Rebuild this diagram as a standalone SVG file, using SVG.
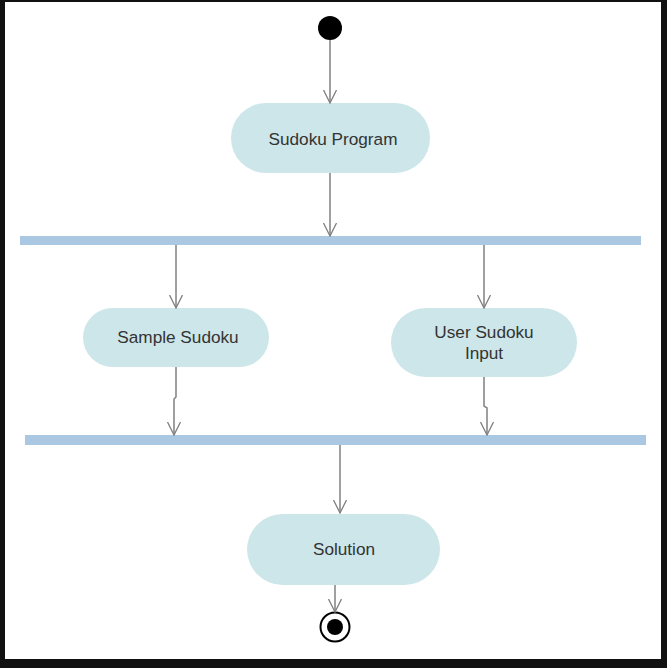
<svg xmlns="http://www.w3.org/2000/svg" width="667" height="668" viewBox="0 0 667 668">
  <defs>
    <marker id="arr" viewBox="0 0 14 14" refX="13" refY="7" markerWidth="14" markerHeight="14" markerUnits="userSpaceOnUse" orient="auto">
      <path d="M0,0.5 L13,7 L0,13.5" fill="none" stroke="#808080" stroke-width="1.3"/>
    </marker>
  </defs>
  <style>
    .act { fill: #cde6e9; }
    .bar { fill: #aac8e1; }
    .lbl { font-family: "Liberation Sans", Arial, sans-serif; font-size: 17.2px; fill: #333333; text-anchor: middle; }
    .con { fill: none; stroke: #808080; stroke-width: 1.5; marker-end: url(#arr); }
  </style>
  <rect x="0" y="0" width="667" height="668" fill="#111111"/>
  <rect x="5" y="2" width="656" height="657" fill="#ffffff"/>

  <g id="start"><circle cx="330" cy="28" r="12" fill="#000000"/></g>

  <g id="sudoku-program">
    <rect class="act" x="231" y="103" width="199" height="70" rx="35"/>
    <text class="lbl" x="333" y="145">Sudoku Program</text>
  </g>

  <g id="fork"><rect class="bar" x="20" y="236" width="621" height="9"/></g>

  <g id="sample-sudoku">
    <rect class="act" x="83" y="308" width="186" height="59" rx="29.5"/>
    <text class="lbl" x="178" y="343">Sample Sudoku</text>
  </g>

  <g id="user-sudoku-input">
    <rect class="act" x="391" y="308" width="186" height="69" rx="34.5"/>
    <text class="lbl" x="484" y="338">User Sudoku</text>
    <text class="lbl" x="484" y="359">Input</text>
  </g>

  <g id="join"><rect class="bar" x="25" y="435" width="621" height="10"/></g>

  <g id="solution">
    <rect class="act" x="247" y="514" width="193" height="71" rx="35.5"/>
    <text class="lbl" x="344" y="555">Solution</text>
  </g>

  <g id="end">
    <circle cx="335" cy="627" r="14.5" fill="#ffffff" stroke="#000000" stroke-width="2"/>
    <circle cx="335" cy="627" r="8" fill="#000000"/>
  </g>

  <g id="connectors">
    <path class="con" d="M330,40 L330,103"/>
    <path class="con" d="M330,173 L330,236"/>
    <path class="con" d="M176,245 L176,308"/>
    <path class="con" d="M484,245 L484,308"/>
    <path class="con" d="M176,367 L176,397 L174,399 L174,435"/>
    <path class="con" d="M484,377 L484,406 L487,408 L487,435"/>
    <path class="con" d="M340,445 L340,513"/>
    <path class="con" d="M335,585 L335,612"/>
  </g>
</svg>
